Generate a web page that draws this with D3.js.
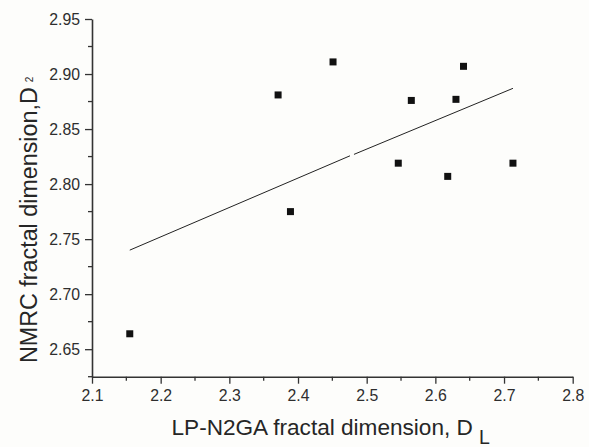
<!DOCTYPE html>
<html>
<head>
<meta charset="utf-8">
<script src="https://cdn.jsdelivr.net/npm/d3@7"></script>
<style>
  body { margin: 0; background: #fdfdfb; }
  svg { display: block; }
  text { font-family: 'Liberation Sans', Arial, sans-serif; fill: #262626; }
</style>
</head>
<body>
<div id="graph_container"></div>
<script>
// LP-N2GA fractal dimension (D_L) vs NMRC fractal dimension (D_2)
var xVals = [2.155, 2.371, 2.389, 2.451, 2.546, 2.565, 2.618, 2.630, 2.641, 2.713];
var yVals = [2.664, 2.881, 2.775, 2.911, 2.819, 2.876, 2.807, 2.877, 2.907, 2.819];

// fitted line, drawn in two pieces like the original (tiny break near 2.48)
var fitX1 = [2.155, 2.4757];
var fitY1 = [2.740, 2.8257];
var fitX2 = [2.4815, 2.713];
var fitY2 = [2.8270, 2.887];

var xTicks = [2.1, 2.2, 2.3, 2.4, 2.5, 2.6, 2.7, 2.8];
var xMinor = [2.15, 2.25, 2.35, 2.45, 2.55, 2.65, 2.75];
var yTicks = [2.65, 2.70, 2.75, 2.80, 2.85, 2.90, 2.95];
var yMinor = [2.625, 2.675, 2.725, 2.775, 2.825, 2.875, 2.925];

var w = 589;
var h = 447;
var mLeft = 92, mTop = 19, mRight = 16.3, mBottom = 70.3;
var sq = 7;
var axisColor = '#333';

var svg = d3.select('#graph_container')
            .append('svg')
            .attr('width', w)
            .attr('height', h);

var xScale = d3.scaleLinear()
               .domain([2.1, 2.8])
               .range([mLeft, w - mRight]);
var yScale = d3.scaleLinear()
               .domain([2.625, 2.95])
               .range([h - mBottom, mTop]);

// axes
var xAxis = d3.axisBottom(xScale)
              .tickValues(xTicks)
              .tickFormat(d3.format('.1f'))
              .tickSizeInner(7)
              .tickSizeOuter(0)
              .tickPadding(6);
var gx = svg.append('g')
            .attr('transform', 'translate(0,' + (h - mBottom) + ')')
            .call(xAxis);
gx.selectAll('line.minor')
  .data(xMinor)
  .enter()
  .append('line')
  .attr('class', 'minor')
  .attr('x1', function(d) { return xScale(d); })
  .attr('x2', function(d) { return xScale(d); })
  .attr('y1', 0)
  .attr('y2', 4);

var yAxis = d3.axisLeft(yScale)
              .tickValues(yTicks)
              .tickFormat(d3.format('.2f'))
              .tickSizeInner(7)
              .tickSizeOuter(0)
              .tickPadding(5);
var gy = svg.append('g')
            .attr('transform', 'translate(' + mLeft + ',0)')
            .call(yAxis);
gy.selectAll('line.minor')
  .data(yMinor)
  .enter()
  .append('line')
  .attr('class', 'minor')
  .attr('y1', function(d) { return yScale(d); })
  .attr('y2', function(d) { return yScale(d); })
  .attr('x1', 0)
  .attr('x2', -4);

gx.selectAll('line').attr('stroke', axisColor).attr('stroke-width', 1.3);
gy.selectAll('line').attr('stroke', axisColor).attr('stroke-width', 1.3);
svg.selectAll('.domain').attr('stroke', axisColor).attr('stroke-width', 1.6);
svg.selectAll('.tick text')
   .style('font-size', '15.8px')
   .style('font-family', "'Liberation Sans', Arial, sans-serif")
   .style('fill', '#2e2e2e');

// fit line
var line = d3.line()
             .x(function(d) { return xScale(d[0]); })
             .y(function(d) { return yScale(d[1]); });
svg.append('path')
   .datum(d3.zip(fitX1, fitY1))
   .attr('fill', 'none')
   .attr('stroke', '#222')
   .attr('stroke-width', 1)
   .attr('d', line);
svg.append('path')
   .datum(d3.zip(fitX2, fitY2))
   .attr('fill', 'none')
   .attr('stroke', '#222')
   .attr('stroke-width', 1)
   .attr('d', line);

// points
svg.selectAll('rect.pt')
   .data(d3.zip(xVals, yVals))
   .enter()
   .append('rect')
   .attr('class', 'pt')
   .attr('x', function(d) { return xScale(d[0]) - sq / 2; })
   .attr('y', function(d) { return yScale(d[1]) - sq / 2; })
   .attr('width', sq)
   .attr('height', sq)
   .attr('fill', '#111');

// x title
var xt = svg.append('text')
            .attr('x', 171.5)
            .attr('y', 435)
            .style('font-size', '22.6px');
xt.append('tspan').text('LP-N2GA fractal dimension, D');
xt.append('tspan')
  .attr('dx', 6)
  .attr('dy', 9)
  .style('font-size', '19.5px')
  .text('L');

// y title
var yt = svg.append('text')
            .attr('transform', 'translate(36.5,363) rotate(-90)')
            .style('font-size', '23.3px');
yt.append('tspan').text('NMRC fractal dimension,D');
yt.append('tspan')
  .attr('dx', 5)
  .attr('dy', -4)
  .style('font-size', '10px')
  .text('2');
</script>
</body>
</html>
